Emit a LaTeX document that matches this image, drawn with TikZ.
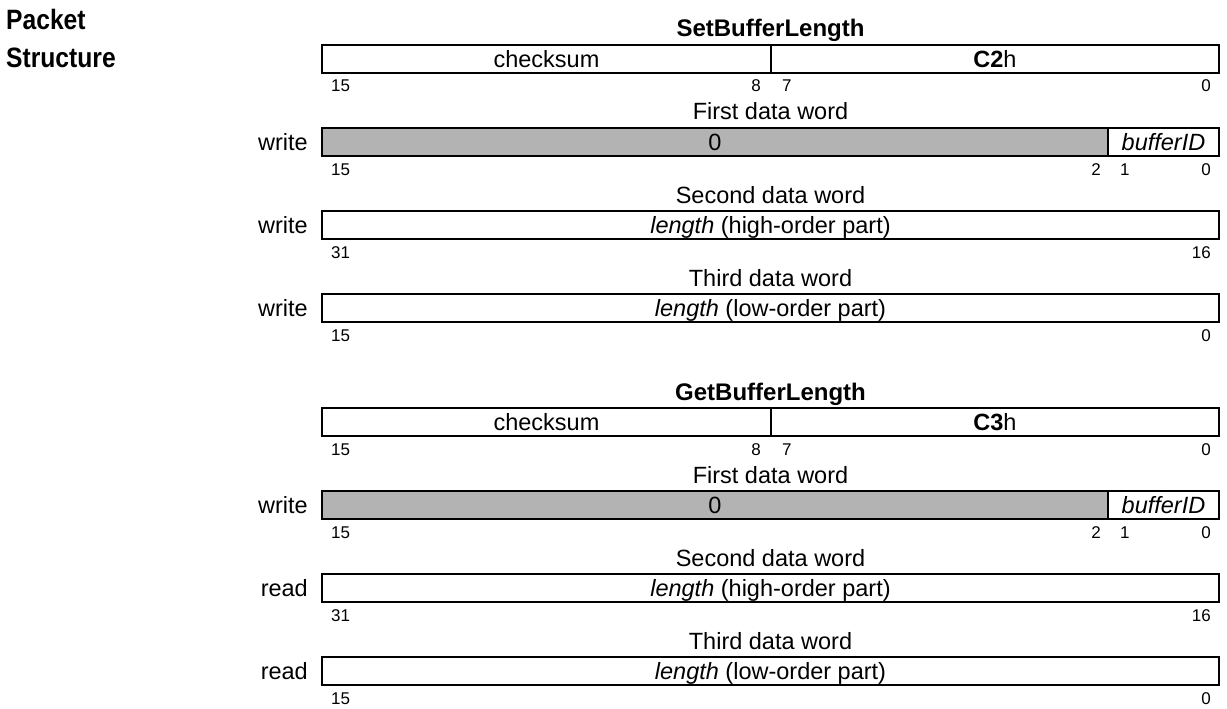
\documentclass[tikz,border=0pt]{standalone}
\usepackage{fontspec}
\setmainfont{Liberation Sans}
\newfontfamily\condfont{Liberation Sans Bold}[FakeStretch=0.88]
\usepackage{xcolor}
\definecolor{PktGray}{RGB}{179,179,179}

\begin{document}
\begin{tikzpicture}[x=1pt, y=-1pt,
          fld/.style={draw, line width=2pt, inner sep=0pt, minimum height=28pt,
                      text height=18pt, text depth=2pt,
                      font=\fontsize{23.5}{28}\selectfont},
          bitno/.style={inner sep=0pt, font=\fontsize{17}{20}\selectfont},
          ttl/.style={inner sep=0pt, anchor=base,
                      font=\fontsize{24}{28}\selectfont\bfseries},
          wlbl/.style={inner sep=0pt, anchor=base,
                       font=\fontsize{23.5}{28}\selectfont},
          rwlbl/.style={inner sep=0pt, anchor=base east,
                        font=\fontsize{23.5}{28}\selectfont}
        ]
        \useasboundingbox (0,0) rectangle (1227,709);

        % Heading
        \node[inner sep=0pt, anchor=base west,
              font=\condfont\fontsize{28}{37}\selectfont] (pkt1) at (6,30) {Packet};
        \node[inner sep=0pt, anchor=base west,
              font=\condfont\fontsize{28}{37}\selectfont] (pkt2) at (6,67) {Structure};

        % SetBufferLength
        \node[ttl] (sttl) at (770.5,37) {SetBufferLength};
        \node[fld, minimum width=449pt] (sck) at (546.5,59) {checksum};
        \node[fld, minimum width=448pt] (scode) at (995,59) {\textbf{C2}h};
        \node[bitno, anchor=base west] (sa15) at (331,92) {15};
        \node[bitno, anchor=base east] (sa8) at (761,92) {8};
        \node[bitno, anchor=base west] (sa7) at (782,92) {7};
        \node[bitno, anchor=base east] (sa0) at (1211,92) {0};

        \node[wlbl] (sw1) at (770.5,120) {First data word};
        \node[rwlbl] (sd1) at (308,150) {write};
        \node[fld, fill=PktGray, minimum width=786pt] (szero) at (715,142) {0};
        \node[fld, minimum width=111pt] (sbuf) at (1163.5,142) {\textit{bufferID}};
        \node[bitno, anchor=base west] (sb15) at (331,175) {15};
        \node[bitno, anchor=base east] (sb2) at (1101,175) {2};
        \node[bitno, anchor=base west] (sb1) at (1120,175) {1};
        \node[bitno, anchor=base east] (sb0) at (1211,175) {0};

        \node[wlbl] (sw2) at (770.5,203) {Second data word};
        \node[rwlbl] (sd2) at (308,233) {write};
        \node[fld, minimum width=897pt] (shi) at (770.5,225)
              {\textit{length} (high-order part)};
        \node[bitno, anchor=base west] (sc31) at (331,258) {31};
        \node[bitno, anchor=base east] (sc16) at (1211,258) {16};

        \node[wlbl] (sw3) at (770.5,286) {Third data word};
        \node[rwlbl] (sd3) at (308,316) {write};
        \node[fld, minimum width=897pt] (slo) at (770.5,308)
              {\textit{length} (low-order part)};
        \node[bitno, anchor=base west] (sd15) at (331,341) {15};
        \node[bitno, anchor=base east] (sd0) at (1211,341) {0};

        % GetBufferLength
        \node[ttl] (gttl) at (770.5,400) {GetBufferLength};
        \node[fld, minimum width=449pt] (gck) at (546.5,422) {checksum};
        \node[fld, minimum width=448pt] (gcode) at (995,422) {\textbf{C3}h};
        \node[bitno, anchor=base west] (ga15) at (331,455) {15};
        \node[bitno, anchor=base east] (ga8) at (761,455) {8};
        \node[bitno, anchor=base west] (ga7) at (782,455) {7};
        \node[bitno, anchor=base east] (ga0) at (1211,455) {0};

        \node[wlbl] (gw1) at (770.5,483) {First data word};
        \node[rwlbl] (gd1) at (308,513) {write};
        \node[fld, fill=PktGray, minimum width=786pt] (gzero) at (715,505) {0};
        \node[fld, minimum width=111pt] (gbuf) at (1163.5,505) {\textit{bufferID}};
        \node[bitno, anchor=base west] (gb15) at (331,538) {15};
        \node[bitno, anchor=base east] (gb2) at (1101,538) {2};
        \node[bitno, anchor=base west] (gb1) at (1120,538) {1};
        \node[bitno, anchor=base east] (gb0) at (1211,538) {0};

        \node[wlbl] (gw2) at (770.5,566) {Second data word};
        \node[rwlbl] (gd2) at (308,596) {read};
        \node[fld, minimum width=897pt] (ghi) at (770.5,588)
              {\textit{length} (high-order part)};
        \node[bitno, anchor=base west] (gc31) at (331,621) {31};
        \node[bitno, anchor=base east] (gc16) at (1211,621) {16};

        \node[wlbl] (gw3) at (770.5,649) {Third data word};
        \node[rwlbl] (gd3) at (308,679) {read};
        \node[fld, minimum width=897pt] (glo) at (770.5,671)
              {\textit{length} (low-order part)};
        \node[bitno, anchor=base west] (gd15) at (331,704) {15};
        \node[bitno, anchor=base east] (gd0) at (1211,704) {0};
      \end{tikzpicture}
\end{document}
